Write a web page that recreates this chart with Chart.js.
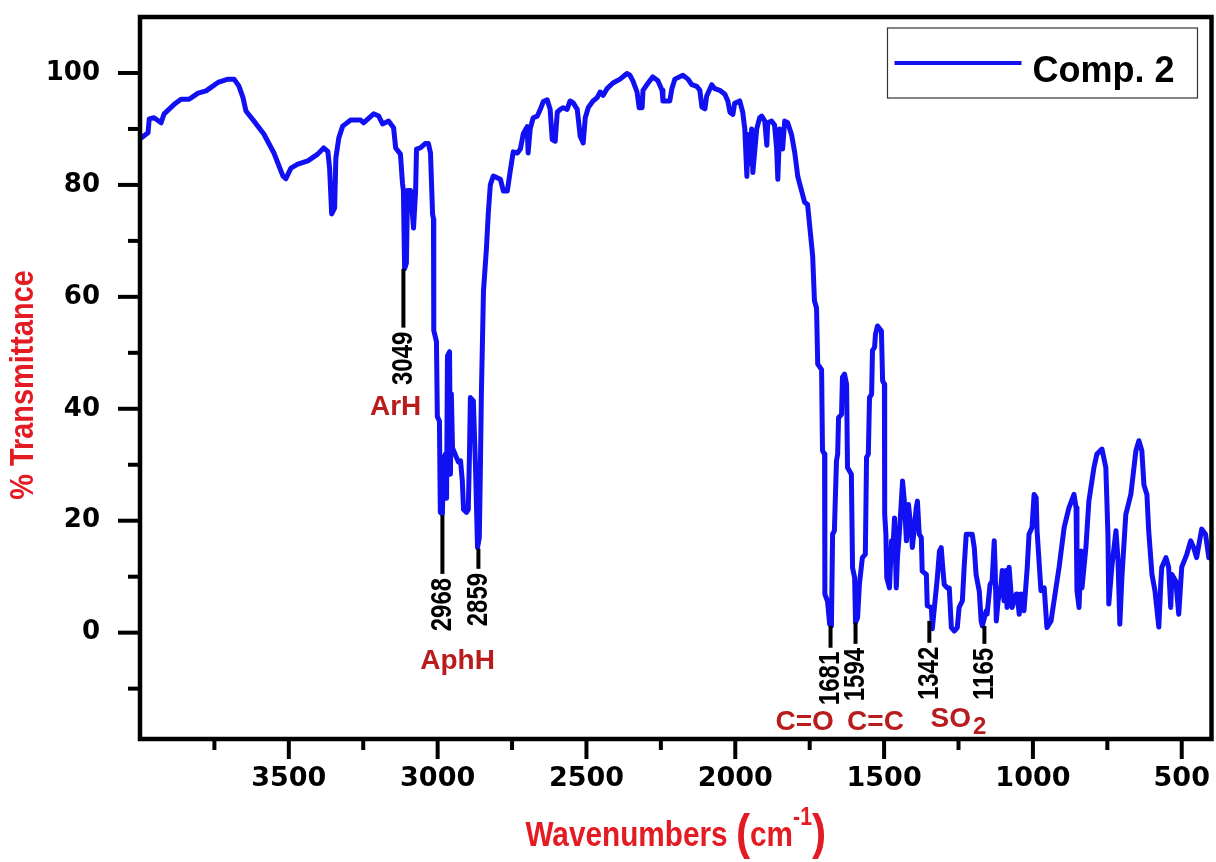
<!DOCTYPE html>
<html>
<head>
<meta charset="utf-8">
<title>IR spectrum - Comp. 2</title>
<script src="https://cdn.jsdelivr.net/npm/chart.js@4.4.1/dist/chart.umd.min.js"></script>
<style>
    html, body { margin: 0; padding: 0; background: #ffffff; }
    #chartIR { display: block; }
</style>
</head>
<body>
<canvas id="chartIR" width="1216" height="862"></canvas>
<script>
// Spectrum: wavenumber (cm-1) and % transmittance
const wavenumbers = [
    3996, 3973, 3969, 3953, 3929, 3919, 3885, 3862, 3835, 3805, 3778, 3738, 3704, 3684, 3668, 3654,
    3644, 3617, 3584, 3550, 3520, 3510, 3493, 3470, 3436, 3403, 3383, 3369, 3363, 3356, 3346, 3342,
    3332, 3319, 3292, 3259, 3249, 3215, 3198, 3185, 3165, 3148, 3141, 3125, 3118, 3115, 3111, 3105,
    3101, 3091, 3081, 3074, 3071, 3058, 3041, 3031, 3024, 3017, 3014, 3013, 3004, 3001, 2994, 2991,
    2984, 2980, 2974, 2970, 2967, 2960, 2957, 2954, 2950, 2940, 2930, 2923, 2917, 2913, 2903, 2897,
    2893, 2890, 2880, 2873, 2866, 2860, 2857, 2853, 2846, 2836, 2830, 2823, 2813, 2789, 2779, 2766,
    2756, 2746, 2732, 2722, 2712, 2699, 2696, 2689, 2679, 2665, 2655, 2645, 2632, 2622, 2615, 2605,
    2598, 2588, 2578, 2565, 2555, 2545, 2531, 2521, 2511, 2504, 2494, 2478, 2464, 2454, 2444, 2431,
    2411, 2387, 2364, 2354, 2344, 2330, 2323, 2313, 2310, 2293, 2277, 2260, 2246, 2243, 2220, 2213,
    2203, 2176, 2159, 2146, 2129, 2119, 2112, 2102, 2096, 2079, 2069, 2052, 2035, 2025, 2018, 2008,
    2002, 1985, 1975, 1968, 1961, 1958, 1951, 1945, 1941, 1928, 1918, 1911, 1901, 1894, 1891, 1878,
    1868, 1861, 1857, 1851, 1841, 1834, 1824, 1811, 1800, 1790, 1777, 1767, 1757, 1750, 1740, 1734,
    1727, 1723, 1710, 1707, 1700, 1699, 1690, 1683, 1677, 1673, 1667, 1660, 1656, 1653, 1643, 1640,
    1633, 1626, 1623, 1610, 1606, 1599, 1596, 1589, 1583, 1573, 1563, 1559, 1553, 1549, 1542, 1539,
    1532, 1529, 1522, 1509, 1505, 1499, 1498, 1494, 1491, 1482, 1475, 1472, 1465, 1459, 1455, 1449,
    1442, 1438, 1432, 1425, 1418, 1408, 1405, 1392, 1388, 1382, 1375, 1372, 1358, 1355, 1341, 1338,
    1331, 1321, 1314, 1308, 1304, 1298, 1288, 1281, 1274, 1264, 1254, 1248, 1237, 1231, 1224, 1204,
    1197, 1191, 1180, 1174, 1170, 1157, 1154, 1144, 1137, 1130, 1127, 1123, 1117, 1107, 1103, 1097,
    1090, 1087, 1080, 1070, 1056, 1053, 1046, 1040, 1030, 1019, 1013, 1003, 996, 989, 986, 973,
    962, 953, 939, 929, 912, 895, 879, 862, 855, 852, 845, 838, 835, 822, 812, 795,
    785, 768, 755, 748, 745, 735, 721, 714, 708, 701, 688, 671, 654, 644, 634, 627,
    617, 611, 600, 590, 577, 570, 567, 553, 544, 537, 533, 520, 510, 500, 483, 470,
    460, 450, 433, 420, 409
];
const transmittance = [
    88.4, 89.3, 91.8, 92.0, 91.1, 92.7, 94.4, 95.3, 95.3, 96.4, 96.8, 98.3, 98.9, 98.9, 97.7, 95.6,
    93.2, 91.4, 89.1, 85.7, 81.6, 81.1, 83.0, 83.7, 84.3, 85.5, 86.6, 86.0, 83.0, 74.8, 75.9, 84.8,
    88.4, 90.5, 91.6, 91.6, 91.1, 92.7, 92.3, 90.9, 91.4, 90.2, 86.6, 85.5, 80.2, 79.0, 65.0, 66.0,
    79.0, 79.0, 72.3, 79.0, 86.4, 86.6, 87.4, 87.4, 85.7, 74.8, 73.9, 54.0, 52.0, 38.6, 37.8, 21.5,
    21.2, 31.0, 31.9, 24.0, 49.4, 50.2, 28.3, 42.7, 33.0, 31.7, 30.5, 30.7, 27.0, 22.0, 21.5, 22.0,
    32.0, 42.0, 41.4, 30.0, 15.2, 17.0, 27.0, 42.7, 61.0, 68.7, 74.8, 80.0, 81.6, 81.0, 78.9, 78.9,
    82.5, 85.9, 85.7, 86.4, 89.2, 90.4, 85.7, 90.0, 92.0, 92.3, 93.5, 94.9, 95.2, 93.5, 88.1, 87.8,
    93.0, 93.5, 93.8, 93.5, 95.0, 94.7, 93.5, 88.7, 87.5, 92.0, 93.8, 95.0, 95.6, 96.6, 96.0, 97.2,
    98.2, 98.9, 99.9, 99.6, 98.6, 96.6, 93.8, 93.8, 96.9, 98.2, 99.3, 98.6, 96.9, 95.0, 95.0, 97.2,
    98.9, 99.6, 98.9, 97.9, 97.6, 96.9, 93.9, 93.6, 95.9, 97.9, 97.2, 96.9, 96.2, 95.0, 93.0, 92.6,
    94.6, 95.0, 93.0, 90.0, 81.5, 89.0, 83.8, 90.0, 82.2, 90.0, 92.0, 92.3, 91.4, 87.1, 91.1, 91.4,
    90.7, 86.4, 81.0, 90.0, 86.4, 91.4, 91.1, 89.0, 85.7, 81.5, 78.9, 76.9, 76.5, 72.7, 67.3, 59.3,
    58.0, 48.0, 47.0, 32.5, 31.9, 6.9, 5.6, 1.5, 1.2, 17.6, 18.2, 30.7, 31.9, 38.4, 39.0, 45.6,
    46.2, 44.4, 29.5, 28.3, 11.6, 9.8, 1.8, 2.7, 8.6, 13.4, 14.0, 31.3, 31.9, 42.0, 42.6, 50.4,
    51.0, 53.3, 54.8, 53.9, 45.0, 44.4, 21.2, 17.6, 9.8, 8.0, 16.4, 13.0, 20.5, 8.0, 13.5, 17.6,
    23.5, 27.1, 23.5, 16.4, 22.9, 17.6, 15.2, 22.3, 23.5, 17.6, 17.0, 11.0, 10.4, 4.8, 4.5, 0.7,
    4.5, 9.9, 14.6, 15.2, 12.3, 8.6, 8.0, 8.0, 0.9, 0.3, 0.9, 4.5, 5.7, 11.7, 17.6, 17.6,
    15.2, 10.4, 7.3, 2.1, 1.2, 3.9, 3.3, 8.6, 9.2, 16.4, 11.7, 2.1, 5.7, 8.6, 11.1, 5.7,
    11.1, 4.5, 11.7, 4.5, 6.9, 6.9, 3.3, 6.9, 3.9, 11.7, 17.6, 18.8, 24.7, 24.1, 18.2, 7.5,
    8.0, 0.9, 2.1, 5.7, 11.7, 18.8, 22.3, 24.7, 22.3, 7.5, 4.5, 14.6, 8.0, 15.2, 23.5, 29.5,
    31.9, 32.8, 29.5, 17.6, 5.1, 11.7, 18.2, 12.9, 1.5, 9.9, 21.1, 24.7, 32.5, 34.3, 32.5, 26.4,
    24.7, 18.2, 10.4, 7.5, 1.0, 9.2, 11.7, 13.4, 11.7, 4.5, 10.4, 9.2, 3.3, 11.7, 14.0, 16.4,
    15.2, 13.4, 18.5, 17.6, 13.4
];

const seriesName = 'Comp. 2';

// Axis ticks
const xTickValues = [500, 1000, 1500, 2000, 2500, 3000, 3500];
const xMinorValues = [750, 1250, 1750, 2250, 2750, 3250, 3750];
const yTickValues = [0, 20, 40, 60, 80, 100];
const yMinorValues = [-10, 10, 30, 50, 70, 90];

// Peak markers: label, wavenumber of the marker line, top and bottom of the line (% T)
const peakLabels = ['3049', '2968', '2859', '1681', '1594', '1342', '1165'];
const peakPositions = [3115, 2984, 2863, 1680, 1596, 1348, 1163];
const peakLineTop = [65, 21, 15, 1.2, 1.8, 2.1, 1.2];
const peakLineBottom = [54.5, 10.5, 11.4, -2.7, -2, -1.8, -2];

// Group assignments under the markers
const groupLabels = ['ArH', 'AphH', 'C=O', 'C=C', 'SO'];
const groupSubscripts = ['', '', '', '', '2'];
const groupPositions = [3141, 2933, 1767, 1529, 1250];
const groupLevels = [40.2, -5.2, -16.1, -16.1, -15.4];

const lineBlue = '#1010f2';
const titleRed = '#e31b23';
const groupRed = '#b81c1c';
const boldFont = "'Liberation Sans', Arial, sans-serif";

function buildPoints() {
    return wavenumbers.map((w, i) => ({ x: w, y: transmittance[i] }));
}

// Frame, outward ticks, peak markers, legend and axis titles
const irDecorations = {
    id: 'irDecorations',
    afterDraw(chart) {
        const { ctx, chartArea: area, scales } = chart;
        const xs = scales.x;
        const ys = scales.y;
        ctx.save();

        ctx.strokeStyle = '#000';
        ctx.lineWidth = 4;
        ctx.lineCap = 'butt';
        const tickX = (v, len) => {
            const px = xs.getPixelForValue(v);
            ctx.beginPath();
            ctx.moveTo(px, area.bottom);
            ctx.lineTo(px, area.bottom + len);
            ctx.stroke();
        };
        const tickY = (v, len) => {
            const py = ys.getPixelForValue(v);
            ctx.beginPath();
            ctx.moveTo(area.left, py);
            ctx.lineTo(area.left - len, py);
            ctx.stroke();
        };
        xTickValues.forEach(v => tickX(v, 20));
        xMinorValues.forEach(v => tickX(v, 11));
        yTickValues.forEach(v => tickY(v, 22));
        yMinorValues.forEach(v => tickY(v, 12));

        ctx.lineWidth = 4.5;
        ctx.strokeRect(area.left, area.top, area.right - area.left, area.bottom - area.top);

        // peak marker lines and rotated (narrowed) numbers
        peakLabels.forEach((label, i) => {
            const px = xs.getPixelForValue(peakPositions[i]);
            const top = ys.getPixelForValue(peakLineTop[i]);
            const bottom = ys.getPixelForValue(peakLineBottom[i]);
            ctx.strokeStyle = '#000';
            ctx.lineWidth = 4;
            ctx.beginPath();
            ctx.moveTo(px, top);
            ctx.lineTo(px, bottom);
            ctx.stroke();

            ctx.save();
            ctx.translate(px, bottom + 4);
            ctx.rotate(-Math.PI / 2);
            ctx.scale(0.8, 1);
            ctx.fillStyle = '#000';
            ctx.font = 'bold 30px ' + boldFont;
            ctx.textAlign = 'right';
            ctx.textBaseline = 'middle';
            ctx.fillText(label, 0, 0);
            ctx.restore();
        });

        // group labels
        groupLabels.forEach((label, i) => {
            const px = xs.getPixelForValue(groupPositions[i]);
            const py = ys.getPixelForValue(groupLevels[i]);
            ctx.fillStyle = groupRed;
            ctx.textBaseline = 'middle';
            ctx.font = 'bold 28px ' + boldFont;
            const mainWidth = ctx.measureText(label).width;
            let subWidth = 0;
            if (groupSubscripts[i]) {
                ctx.font = 'bold 24px ' + boldFont;
                subWidth = ctx.measureText(groupSubscripts[i]).width + 2;
            }
            const start = px - (mainWidth + subWidth) / 2;
            ctx.font = 'bold 28px ' + boldFont;
            ctx.textAlign = 'left';
            ctx.fillText(label, start, py);
            if (groupSubscripts[i]) {
                ctx.font = 'bold 24px ' + boldFont;
                ctx.fillText(groupSubscripts[i], start + mainWidth + 2, py + 9);
            }
        });

        // legend box
        const dataset = chart.data.datasets[0];
        const boxLeft = area.right - 324;
        const boxTop = area.top + 11;
        ctx.strokeStyle = '#333';
        ctx.lineWidth = 1.2;
        ctx.strokeRect(boxLeft, boxTop, 310, 70);
        ctx.strokeStyle = dataset.borderColor;
        ctx.lineWidth = 4;
        ctx.beginPath();
        ctx.moveTo(boxLeft + 7, boxTop + 35);
        ctx.lineTo(boxLeft + 134, boxTop + 35);
        ctx.stroke();
        ctx.fillStyle = '#000';
        ctx.font = 'bold 36px ' + boldFont;
        ctx.textAlign = 'left';
        ctx.textBaseline = 'alphabetic';
        ctx.fillText(dataset.label, boxLeft + 145, boxTop + 54);

        // y axis title
        ctx.save();
        ctx.translate(24, 385);
        ctx.rotate(-Math.PI / 2);
        ctx.scale(0.85, 1);
        ctx.fillStyle = titleRed;
        ctx.font = 'bold 34px ' + boldFont;
        ctx.textAlign = 'center';
        ctx.textBaseline = 'middle';
        ctx.fillText('% Transmittance', 0, 0);
        ctx.restore();

        // x axis title with superscript and tall brackets
        const parts = [
            { text: 'Wavenumbers ', size: 35, dy: 0 },
            { text: '(', size: 50, dy: 3 },
            { text: 'cm', size: 35, dy: 0 },
            { text: '-1', size: 25, dy: -21 },
            { text: ')', size: 50, dy: 3 }
        ];
        const squeeze = 0.85;
        let total = 0;
        parts.forEach(p => {
            ctx.font = 'bold ' + p.size + 'px ' + boldFont;
            p.width = ctx.measureText(p.text).width * squeeze;
            total += p.width;
        });
        let cursor = (area.left + area.right) / 2 - total / 2;
        const baseline = 846;
        ctx.fillStyle = titleRed;
        ctx.textAlign = 'left';
        ctx.textBaseline = 'alphabetic';
        parts.forEach(p => {
            ctx.save();
            ctx.translate(cursor, baseline + p.dy);
            ctx.scale(squeeze, 1);
            ctx.font = 'bold ' + p.size + 'px ' + boldFont;
            ctx.fillText(p.text, 0, 0);
            ctx.restore();
            cursor += p.width;
        });

        ctx.restore();
    }
};

const ctx = document.getElementById('chartIR');
new Chart(ctx, {
    type: 'line',
    data: {
        datasets: [{
            label: seriesName,
            data: buildPoints(),
            borderColor: lineBlue,
            borderWidth: 5,
            borderJoinStyle: 'round',
            borderCapStyle: 'round',
            pointRadius: 0,
            tension: 0,
            fill: false
        }]
    },
    options: {
        responsive: false,
        animation: false,
        devicePixelRatio: 1,
        layout: { padding: { top: 17, right: 4.5, left: 0, bottom: 0 } },
        plugins: {
            legend: { display: false },
            tooltip: { enabled: false }
        },
        scales: {
            x: {
                type: 'linear',
                reverse: true,
                min: 400,
                max: 4000,
                grid: { display: false, drawTicks: false },
                border: { display: false },
                afterBuildTicks: (scale) => {
                    scale.ticks = xTickValues.map(v => ({ value: v }));
                },
                afterFit: (scale) => {
                    scale.height = 123;
                    scale.paddingLeft = 0;
                    scale.paddingRight = 0;
                },
                ticks: {
                    autoSkip: false,
                    maxRotation: 0,
                    padding: 24,
                    color: '#000',
                    font: { family: 'DejaVu Sans', size: 27, weight: 'bold' },
                    callback: (value) => String(value)
                }
            },
            y: {
                min: -19,
                max: 110,
                grid: { display: false, drawTicks: false },
                border: { display: false },
                afterBuildTicks: (scale) => {
                    scale.ticks = yTickValues.map(v => ({ value: v }));
                },
                afterFit: (scale) => {
                    scale.width = 140;
                    scale.paddingTop = 0;
                    scale.paddingBottom = 0;
                },
                ticks: {
                    padding: 40,
                    color: '#000',
                    font: { family: 'DejaVu Sans', size: 26, weight: 'bold' },
                    callback: (value) => String(value)
                }
            }
        }
    },
    plugins: [irDecorations]
});
</script>
</body>
</html>
